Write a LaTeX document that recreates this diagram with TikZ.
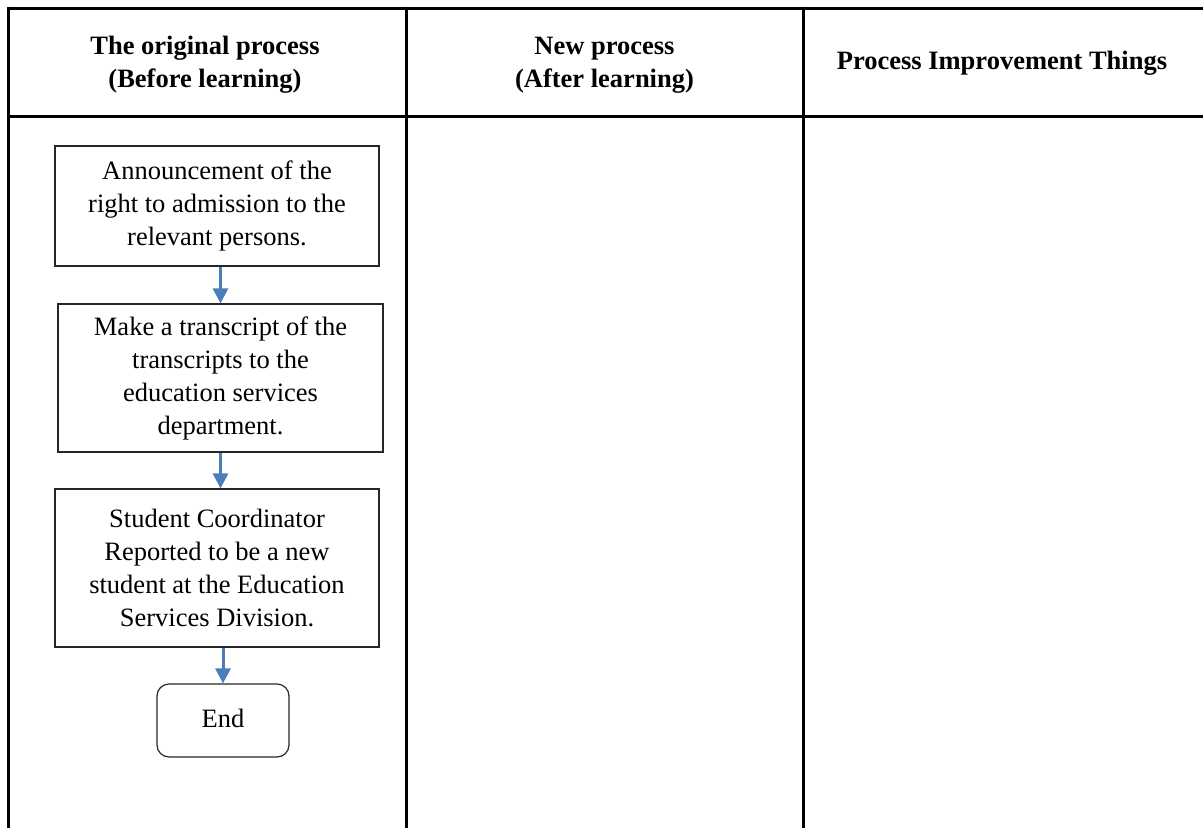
\documentclass[tikz,border=0pt]{standalone}
\usepackage{fontspec}
\setmainfont{Liberation Serif}
\usetikzlibrary{arrows.meta}
\definecolor{arrblue}{HTML}{4A7EBB}
\definecolor{boxline}{HTML}{262626}
\begin{document}
\begin{tikzpicture}[x=1pt,y=-1pt,
  grid/.style={line width=3pt,black},
  head/.style={font=\fontsize{26.5}{33}\selectfont\bfseries,align=center,inner sep=0pt},
  stepbox/.style={draw=boxline,line width=1.2pt,font=\fontsize{26.5}{33}\selectfont,align=center,inner sep=0pt},
  endbox/.style={stepbox,rounded corners=12pt},
  arr/.style={draw=arrblue,line width=3pt,-{Triangle[width=15pt,length=15pt,fill=arrblue]}}
]
\useasboundingbox (0,0) rectangle (1203,828);
% table grid
\draw[grid] (8,8) -- (1203,8);
\draw[grid] (8,116) -- (1203,116);
\draw[grid] (8,6.5) -- (8,828);
\draw[grid] (406,6.5) -- (406,828);
\draw[grid] (803,6.5) -- (803,828);
% headers
\node[head] (h1) at (205,65) {The original process\\(Before learning)};
\node[head] (h2) at (604.5,65) {New process\\(After learning)};
\node[head] (h3) at (1002,63) {Process Improvement Things};
% boxes
\node[stepbox,minimum width=324pt,minimum height=120pt] (b1) at (217,206) {Announcement of the\\right to admission to the\\relevant persons.};
\node[stepbox,minimum width=325pt,minimum height=148pt] (b2) at (220.5,378) {Make a transcript of the\\transcripts to the\\education services\\department.};
\node[stepbox,minimum width=324pt,minimum height=158pt] (b3) at (217,568) {Student Coordinator\\Reported to be a new\\student at the Education\\Services Division.};
\node[endbox,minimum width=132pt,minimum height=73pt] (e) at (223,720.5) {\raisebox{5pt}{End}};
% arrows
\draw[arr] (b2.north |- b1.south) -- (b2.north);
\draw[arr] (b2.south) -- (b2.south |- b3.north);
\draw[arr] (e.north |- b3.south) -- (e.north);
\end{tikzpicture}
\end{document}
